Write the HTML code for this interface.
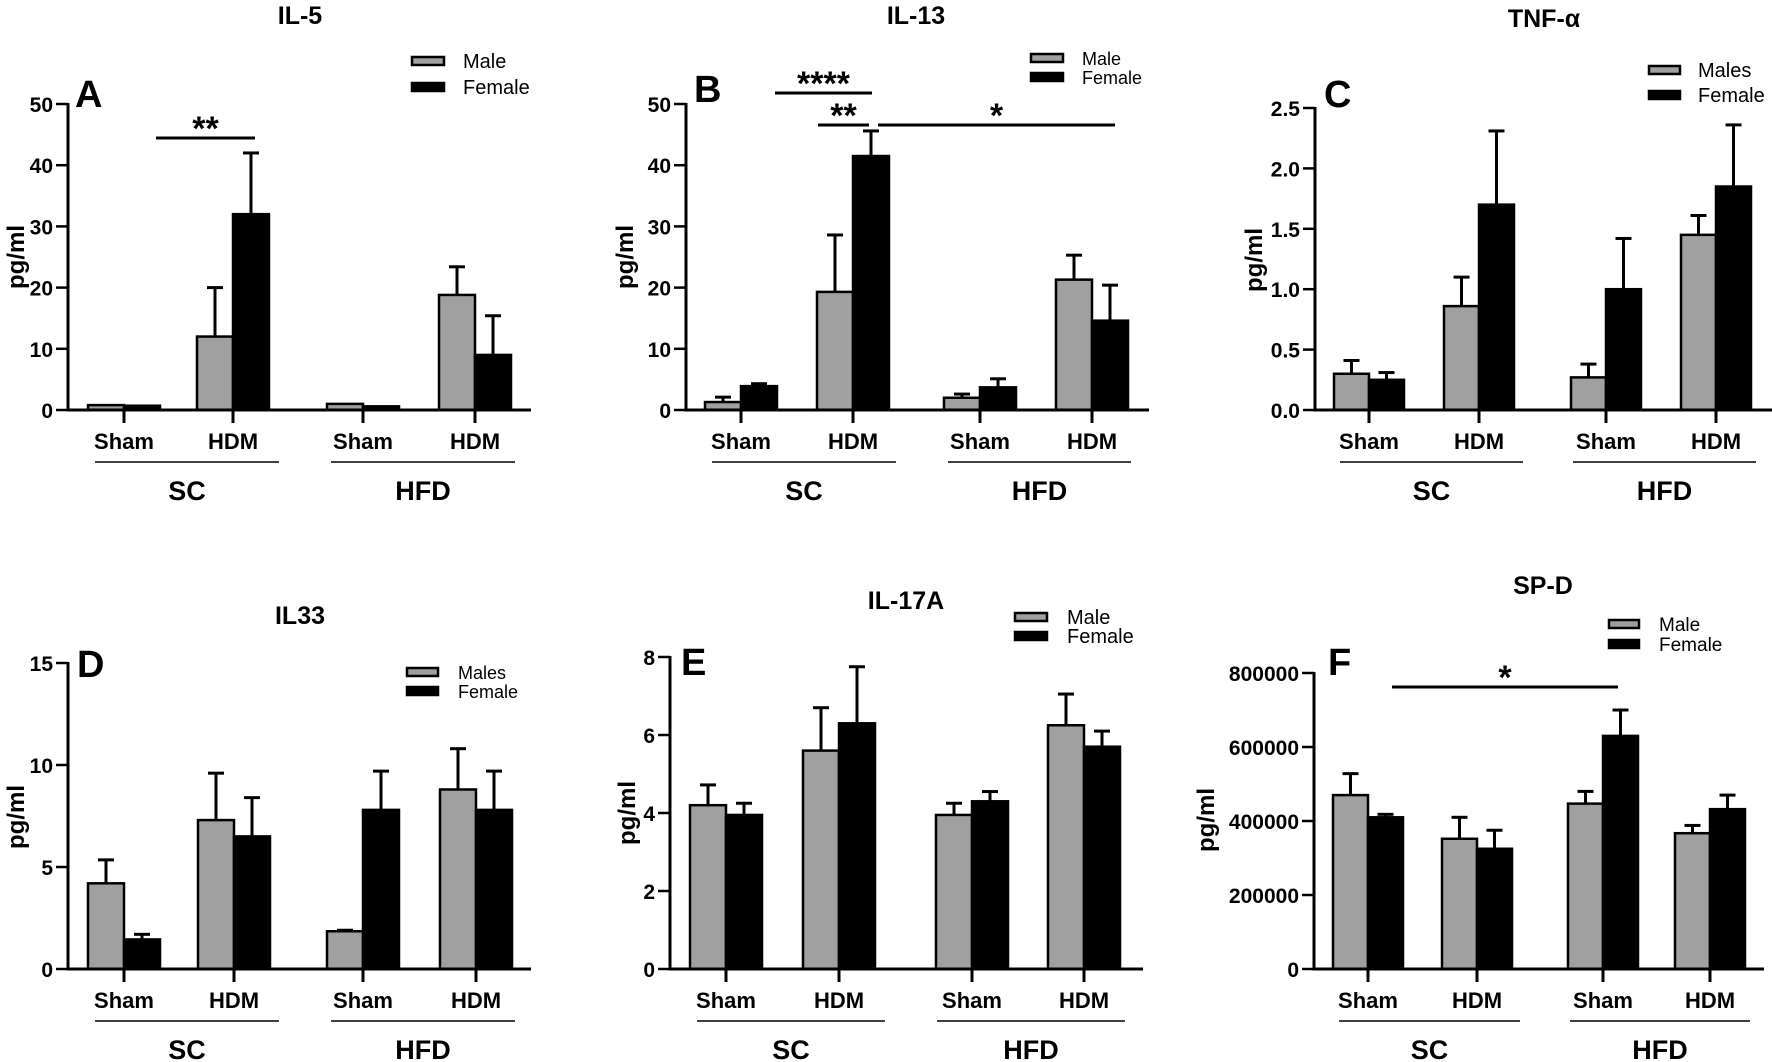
<!DOCTYPE html>
<html><head><meta charset="utf-8"><style>
html,body{margin:0;padding:0;background:#fff}
svg{display:block}
text{font-family:"Liberation Sans",Arial,sans-serif}
</style></head><body>
<svg id="chartsvg" xmlns="http://www.w3.org/2000/svg" width="1772" height="1062" viewBox="0 0 1772 1062"></svg>
<script>
(function(){
const SV=document.getElementById('chartsvg');let h='';
function T(x,y,t,o){o=o||{};h+=`<text x="${x}" y="${y}" font-size="${o.fs||20}" font-weight="${o.fw||'bold'}" text-anchor="${o.a||'middle'}" ${o.tr?`transform="${o.tr}"`:''}>${t}</text>`;}
function L(x1,y1,x2,y2,w){h+=`<line x1="${x1}" y1="${y1}" x2="${x2}" y2="${y2}" stroke="#000" stroke-width="${w||3}"/>`;}
function R(x,y,w,hh,f,sw){h+=`<rect x="${x}" y="${y}" width="${w}" height="${hh}" fill="${f}" stroke="#000" stroke-width="${sw||2.5}"/>`;}
function P(c){
 const ys=v=>c.y0-(v/c.max)*(c.y0-c.ytop);
 c.ticks.forEach((tx,i)=>{
  const d=c.d[i];const bw=c.bw||36;
  let mt=ys(d[0]),ft=ys(d[2]);
  if(d[1]!=null){L(tx-bw/2,mt,tx-bw/2,ys(d[1]),3);L(tx-bw/2-8,ys(d[1]),tx-bw/2+8,ys(d[1]),3);}
  if(d[3]!=null){L(tx+bw/2,ft,tx+bw/2,ys(d[3]),3);L(tx+bw/2-8,ys(d[3]),tx+bw/2+8,ys(d[3]),3);}
  R(tx-bw,mt,bw,c.y0-mt,'#a0a0a0');
  R(tx,ft,bw,c.y0-ft,'#000');
  L(tx,c.y0,tx,c.y0+13,3);
  T(tx,c.y0+39,i%2?'HDM':'Sham',{fs:22});
 });
 L(c.ax,c.ytop-1,c.ax,c.y0+1.5,3);
 L(c.ax-1.5,c.y0,c.xend,c.y0,3);
 c.yl.forEach((lab,i)=>{const v=c.yv[i];const y=ys(v);L(c.ax-12,y,c.ax,y,2.5);T(c.ax-15,y+8,lab,{fs:21,a:'end'});});
 L(c.g1[0],c.y0+52,c.g1[1],c.y0+52,1.5);L(c.g2[0],c.y0+52,c.g2[1],c.y0+52,1.5);
 T((c.g1[0]+c.g1[1])/2,c.y0+90,'SC',{fs:27});T((c.g2[0]+c.g2[1])/2,c.y0+90,'HFD',{fs:27});
 T(c.tx,c.ty+9,c.title,{fs:25});
 T(c.lx,c.ly+13,c.letter,{fs:38,a:'start'});
 T(c.px,c.py,'pg/ml',{fs:24,tr:`rotate(-90 ${c.px} ${c.py})`});
 const lg=c.lg;R(lg.x,lg.y1-4,lg.w,8,'#a0a0a0',2.5);R(lg.x,lg.y2-4,lg.w,8,'#000',2.5);
 T(lg.tx,lg.y1+7,lg.m,{fs:lg.fs,fw:'normal',a:'start'});T(lg.tx,lg.y2+7,'Female',{fs:lg.fs,fw:'normal',a:'start'});
 (c.sig||[]).forEach(s=>{L(s[0],s[2],s[1],s[2],3);T((s[0]+s[1])/2,s[2]+2,s[3],{fs:34});});
}
const TOPROW={y0:410,ytop:104};
P(Object.assign({},TOPROW,{ax:68,xend:531,max:50,yv:[0,10,20,30,40,50],yl:['0','10','20','30','40','50'],
 ticks:[124,233,363,475],d:[[0.8,null,0.7,null],[12,20,32,42],[1.0,null,0.6,null],[18.8,23.4,9,15.4]],
 g1:[95,279],g2:[331,515],title:'IL-5',tx:300,ty:15,letter:'A',lx:75,ly:94,px:24,py:257,
 lg:{x:412,y1:61,y2:87,w:32,tx:463,m:'Male',fs:20},sig:[[156,255,138,'**']]}));
P(Object.assign({},TOPROW,{ax:686,xend:1149,max:50,yv:[0,10,20,30,40,50],yl:['0','10','20','30','40','50'],
 ticks:[741,853,980,1092],d:[[1.3,2.1,3.9,4.3],[19.3,28.6,41.5,45.6],[2,2.6,3.7,5.1],[21.3,25.3,14.6,20.4]],
 g1:[712,896],g2:[948,1131],title:'IL-13',tx:916,ty:15,letter:'B',lx:694,ly:89,px:633,py:257,
 lg:{x:1031,y1:58,y2:77,w:32,tx:1082,m:'Male',fs:18},sig:[[775,872,93,'****'],[818,869,125,'**'],[878,1115,125,'*']]}));
P({y0:410,ytop:108,ax:1315,xend:1772,max:2.5,yv:[0,0.5,1,1.5,2,2.5],yl:['0.0','0.5','1.0','1.5','2.0','2.5'],
 ticks:[1369,1479,1606,1716],bw:35,d:[[0.3,0.41,0.25,0.31],[0.86,1.1,1.7,2.31],[0.27,0.38,1.0,1.42],[1.45,1.61,1.85,2.36]],
 g1:[1340,1523],g2:[1573,1756],title:'TNF-α',tx:1544,ty:18,letter:'C',lx:1324,ly:94,px:1262,py:260,
 lg:{x:1649,y1:70,y2:95,w:31,tx:1698,m:'Males',fs:20}});
P({y0:969,ytop:663,ax:68,xend:531,max:15,yv:[0,5,10,15],yl:['0','5','10','15'],
 ticks:[124,234,363,476],d:[[4.2,5.35,1.45,1.7],[7.3,9.6,6.5,8.4],[1.85,1.9,7.8,9.7],[8.8,10.8,7.8,9.7]],
 g1:[95,279],g2:[331,515],title:'IL33',tx:300,ty:615,letter:'D',lx:77,ly:664,px:24,py:817,
 lg:{x:407,y1:672,y2:691,w:31,tx:458,m:'Males',fs:18}});
P({y0:969,ytop:657,ax:670,xend:1143,max:8,yv:[0,2,4,6,8],yl:['0','2','4','6','8'],
 ticks:[726,839,972,1084],d:[[4.2,4.72,3.95,4.25],[5.6,6.7,6.3,7.75],[3.95,4.25,4.3,4.55],[6.25,7.05,5.7,6.1]],
 g1:[697,885],g2:[937,1125],title:'IL-17A',tx:906,ty:600,letter:'E',lx:681,ly:662,px:635,py:813,
 lg:{x:1015,y1:617,y2:636,w:32,tx:1067,m:'Male',fs:20}});
P({y0:969,ytop:673,ax:1314,xend:1764,max:800000,yv:[0,200000,400000,600000,800000],yl:['0','200000','400000','600000','800000'],
 ticks:[1368,1477,1603,1710],bw:35,d:[[470000,528000,410000,418000],[352000,410000,325000,375000],[447000,480000,630000,700000],[367000,388000,432000,470000]],
 g1:[1339,1520],g2:[1570,1750],title:'SP-D',tx:1543,ty:585,letter:'F',lx:1328,ly:662,px:1214,py:820,
 lg:{x:1609,y1:624,y2:644,w:30,tx:1659,m:'Male',fs:19},sig:[[1392,1618,687,'*']]});
SV.innerHTML=h;
})();
</script>
</body></html>
